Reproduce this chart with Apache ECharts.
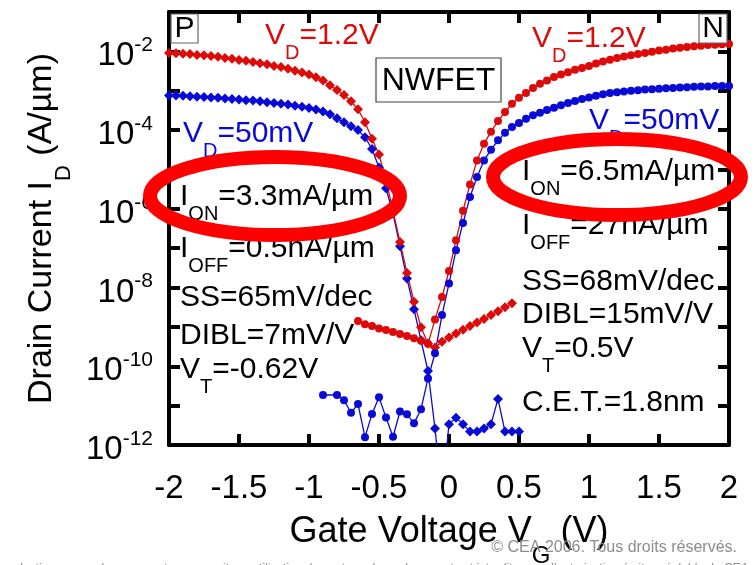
<!DOCTYPE html>
<html>
<head>
<meta charset="utf-8">
<script src="https://cdn.jsdelivr.net/npm/echarts@6/dist/echarts.min.js"></script>
<style>
  html, body { margin: 0; padding: 0; background: #fff; }
  #chart { width: 756px; height: 565px; }
</style>
</head>
<body>
<div id="chart"></div>
<script>
// Gate voltage sweeps (V)
const gateP = [-2.00, -1.95, -1.90, -1.85, -1.80, -1.75, -1.70, -1.65, -1.60, -1.55,
               -1.50, -1.45, -1.40, -1.35, -1.30, -1.25, -1.20, -1.15, -1.10, -1.05,
               -1.00, -0.95, -0.90, -0.85, -0.80, -0.75, -0.70, -0.65, -0.60, -0.55,
               -0.50, -0.45, -0.40, -0.35, -0.30, -0.25, -0.20, -0.15, -0.10, -0.05,
                0.00,  0.05,  0.10,  0.15,  0.20,  0.25,  0.30,  0.35,  0.40,  0.45, 0.50];
const gateN = [-0.90, -0.85, -0.80, -0.75, -0.70, -0.65, -0.60, -0.55, -0.50, -0.45,
               -0.40, -0.35, -0.30, -0.25, -0.20, -0.15, -0.10, -0.05,  0.00,  0.05,
                0.10,  0.15,  0.20,  0.25,  0.30,  0.35,  0.40,  0.45,  0.50,  0.55,
                0.60,  0.65,  0.70,  0.75,  0.80,  0.85,  0.90,  0.95,  1.00,  1.05,
                1.10,  1.15,  1.20,  1.25,  1.30,  1.35,  1.40,  1.45,  1.50,  1.55,
                1.60,  1.65,  1.70,  1.75,  1.80,  1.85,  1.90,  1.95,  2.00];

// Drain current as decades: log10(I_D in A/um)
// P-type, V_D = 1.2 V
const pHighExp = [-2.04, -2.05, -2.06, -2.07, -2.09, -2.10, -2.12, -2.14, -2.17, -2.19,
                  -2.22, -2.24, -2.27, -2.30, -2.33, -2.37, -2.40, -2.44, -2.49, -2.54,
                  -2.59, -2.66, -2.74, -2.86, -2.98, -3.11, -3.27, -3.47, -3.80, -4.22,
                  -4.62, -5.28, -6.05, -6.84, -7.63, -8.36, -9.01, -9.42, -9.52, -9.38,
                  -9.27, -9.17, -9.07, -8.98, -8.89, -8.80, -8.70, -8.60, -8.50, -8.40, null];
// P-type, V_D = 50 mV
const pLowExp = [-3.12, -3.12, -3.13, -3.14, -3.15, -3.16, -3.17, -3.18, -3.20, -3.21,
                 -3.22, -3.24, -3.25, -3.27, -3.29, -3.31, -3.33, -3.35, -3.38, -3.41,
                 -3.44, -3.48, -3.53, -3.60, -3.70, -3.80, -3.90, -4.00, -4.18, -4.48,
                 -4.95, -5.48, -6.12, -6.95, -7.77, -8.55, -9.34, -10.12, -11.58, -13.30,
                 -11.47, -11.31, -11.47, -11.66, -11.66, -11.58, -11.47, -10.83, -11.66, -11.66, -11.66];
// N-type, V_D = 1.2 V
const nHighExp = [null, null, null, null, null, -8.85, -8.93, -8.98, -9.04, -9.08,
                  -9.13, -9.18, -9.23, -9.29, -9.35, -9.43, -8.81, -8.24, -7.58, -6.80,
                  -6.05, -5.38, -4.77, -4.35, -4.04, -3.77, -3.54, -3.33, -3.18, -3.06,
                  -2.93, -2.82, -2.74, -2.65, -2.59, -2.53, -2.47, -2.42, -2.37, -2.31,
                  -2.26, -2.21, -2.17, -2.13, -2.10, -2.07, -2.04, -2.01, -1.98, -1.96,
                  -1.93, -1.91, -1.89, -1.87, -1.86, -1.84, -1.83, -1.82, -1.81];
// N-type, V_D = 50 mV
const nLowExp = [-10.73, null, -10.73, -10.86, -11.18, -10.96, -11.80, -11.21, -10.79, -11.30,
                 -11.79, -11.15, -11.22, -11.45, -11.09, -10.31, -9.67, -8.70, -7.90, -7.05,
                 -6.36, -5.70, -5.19, -4.77, -4.50, -4.26, -4.07, -3.92, -3.82, -3.71,
                 -3.62, -3.56, -3.49, -3.43, -3.37, -3.31, -3.26, -3.21, -3.17, -3.13,
                 -3.09, -3.06, -3.04, -3.02, -3.00, -2.99, -2.97, -2.96, -2.95, -2.94,
                 -2.93, -2.92, -2.91, -2.90, -2.89, -2.89, -2.88, -2.88, -2.88];

// Axis ranges: gate voltage in volts, current in decades (10^n A/um)
const xTicks = { min: -2, max: 2, step: 0.5 };
const yDecades = { min: -12, max: -1, step: 1 };

const RED = '#dd0a0a';
const BLUE = '#0a0ad6';
const SANS = '"Liberation Sans", Arial, Helvetica, sans-serif';

const toPairs = (xs, exps) => xs.map((x, i) => [x, exps[i]]);

// rich-text styles: base text plus a lowered subscript
function subStyles(size, subSize, drop, color) {
  return {
    b: { fontSize: size, lineHeight: size, verticalAlign: 'top', fill: color, color: color, fontFamily: SANS },
    s: { fontSize: subSize, lineHeight: subSize, verticalAlign: 'top', padding: [drop, 0, 0, 0], fill: color, color: color, fontFamily: SANS }
  };
}

function label(x, y, text, color) {
  return {
    type: 'text', z: 50,
    style: { x: x, y: y, text: text, align: 'left', verticalAlign: 'top', rich: subStyles(30, 20, 22, color) }
  };
}

// thick frame on all four sides with inward ticks
const frameLine = () => ({ show: true, onZero: false, lineStyle: { color: '#000', width: 4 } });
const frameTicks = () => ({ show: true, inside: true, length: 11, lineStyle: { color: '#000', width: 4 } });

const chart = echarts.init(document.getElementById('chart'), null, { renderer: 'canvas' });

const lineSeries = (name, xs, exps, color, symbol, size) => ({
  name: name, type: 'line', data: toPairs(xs, exps), clip: true, connectNulls: true,
  symbol: symbol, symbolSize: size, showSymbol: true,
  lineStyle: { color: color, width: 1.3 },
  itemStyle: { color: color },
  emphasis: { disabled: true },
  z: 3
});

const annotations = [
  // device-type boxes
  { type: 'rect', z: 40, shape: { x: 171, y: 14, width: 27, height: 29 }, style: { fill: '#fff', stroke: '#666', lineWidth: 1.2 } },
  { type: 'text', z: 41, style: { x: 184.5, y: 29, text: 'P', align: 'center', verticalAlign: 'middle', font: '30px ' + SANS, fill: '#000' } },
  { type: 'rect', z: 40, shape: { x: 699, y: 14, width: 28, height: 29 }, style: { fill: '#fff', stroke: '#666', lineWidth: 1.2 } },
  { type: 'text', z: 41, style: { x: 713, y: 29, text: 'N', align: 'center', verticalAlign: 'middle', font: '30px ' + SANS, fill: '#000' } },
  { type: 'rect', z: 40, shape: { x: 376, y: 58, width: 125, height: 44 }, style: { fill: '#fff', stroke: '#444', lineWidth: 1.2 } },
  { type: 'text', z: 41, style: { x: 438.5, y: 81, text: 'NWFET', align: 'center', verticalAlign: 'middle', font: '32px ' + SANS, fill: '#000' } },

  // drain-bias labels
  label(265, 21, '{b|V}{s|D}{b|=1.2V}', RED),
  label(532, 24, '{b|V}{s|D}{b|=1.2V}', RED),
  label(183, 119, '{b|V}{s|D}{b|=50mV}', BLUE),
  label(589, 106, '{b|V}{s|D}{b|=50mV}', BLUE),

  // P-type figures of merit
  label(180, 182, '{b|I}{s|ON}{b|=3.3mA/µm}', '#000'),
  label(180, 234, '{b|I}{s|OFF}{b|=0.5nA/µm}', '#000'),
  label(180, 283, '{b|SS=65mV/dec}', '#000'),
  label(180, 321, '{b|DIBL=7mV/V}', '#000'),
  label(180, 355, '{b|V}{s|T}{b|=-0.62V}', '#000'),

  // N-type figures of merit
  label(522, 157, '{b|I}{s|ON}{b|=6.5mA/µm}', '#000'),
  label(522, 211, '{b|I}{s|OFF}{b|=27nA/µm}', '#000'),
  label(522, 267, '{b|SS=68mV/dec}', '#000'),
  label(522, 300, '{b|DIBL=15mV/V}', '#000'),
  label(522, 334, '{b|V}{s|T}{b|=0.5V}', '#000'),
  label(522, 388, '{b|C.E.T.=1.8nm}', '#000'),

  // highlight rings around the on-currents
  { type: 'ellipse', z: 60, shape: { cx: 275, cy: 196, rx: 125, ry: 39 }, style: { fill: null, stroke: '#ff0000', lineWidth: 14 } },
  { type: 'ellipse', z: 60, shape: { cx: 617, cy: 177, rx: 124, ry: 38 }, style: { fill: null, stroke: '#ff0000', lineWidth: 14 } },

  // footer
  { type: 'text', z: 70, style: { x: 737, y: 548, text: '© CEA 2006. Tous droits réservés.', align: 'right', verticalAlign: 'middle', font: '16px ' + SANS, fill: '#8c8c8c' } },
  { type: 'text', z: 70, style: { x: 752, y: 569, text: 'Toute reproduction, sur quelque support que ce soit, ou utilisation du contenu de ce document est interdite sans l\u2019autorisation écrite préalable du CEA.', align: 'right', verticalAlign: 'middle', font: '12px ' + SANS, fill: '#8c8c8c' } }
];

const option = {
  animation: false,
  backgroundColor: '#fff',
  grid: { left: 169, right: 27, top: 12, bottom: 120, show: false, containLabel: false, outerBoundsMode: 'none' },
  xAxis: [
    {
      type: 'value', min: xTicks.min, max: xTicks.max, interval: xTicks.step, position: 'bottom',
      axisLine: frameLine(), axisTick: frameTicks(),
      splitLine: { show: false },
      axisLabel: { margin: 27, fontSize: 33, fontFamily: SANS, color: '#000', formatter: v => String(v) },
      name: '{b|Gate Voltage V}{s|G}{b| (V)}',
      nameLocation: 'middle', nameGap: 69,
      nameTextStyle: { rich: subStyles(36, 24, 30, '#000') }
    },
    {
      type: 'value', min: xTicks.min, max: xTicks.max, interval: xTicks.step, position: 'top',
      axisLine: frameLine(), axisTick: frameTicks(),
      splitLine: { show: false }, axisLabel: { show: false }
    }
  ],
  yAxis: [
    {
      type: 'value', min: yDecades.min, max: yDecades.max, interval: yDecades.step, position: 'left',
      axisLine: frameLine(), axisTick: frameTicks(),
      splitLine: { show: false },
      axisLabel: {
        margin: 16, color: '#000',
        formatter: v => (Math.round(v) % 2 === 0 ? '{b|10}{p|' + Math.round(v) + '}' : ''),
        rich: {
          b: { fontSize: 33, lineHeight: 33, verticalAlign: 'top', padding: [5, 0, 0, 0], fontFamily: SANS, color: '#000' },
          p: { fontSize: 21, lineHeight: 21, verticalAlign: 'top', fontFamily: SANS, color: '#000' }
        }
      },
      name: '{b|Drain Current I}{s|D}{b| (A/µm)}',
      nameLocation: 'middle', nameGap: 101,
      nameTextStyle: { rich: subStyles(34, 22, 28, '#000') }
    },
    {
      type: 'value', min: yDecades.min, max: yDecades.max, interval: yDecades.step, position: 'right',
      axisLine: frameLine(), axisTick: frameTicks(),
      splitLine: { show: false }, axisLabel: { show: false }
    }
  ],
  series: [
    lineSeries('P, VD=50mV', gateP, pLowExp, BLUE, 'diamond', 10),
    lineSeries('P, VD=1.2V', gateP, pHighExp, RED, 'diamond', 10),
    lineSeries('N, VD=50mV', gateN, nLowExp, BLUE, 'circle', 8),
    lineSeries('N, VD=1.2V', gateN, nHighExp, RED, 'circle', 8)
  ],
  graphic: annotations
};

chart.setOption(option);
</script>
</body>
</html>
